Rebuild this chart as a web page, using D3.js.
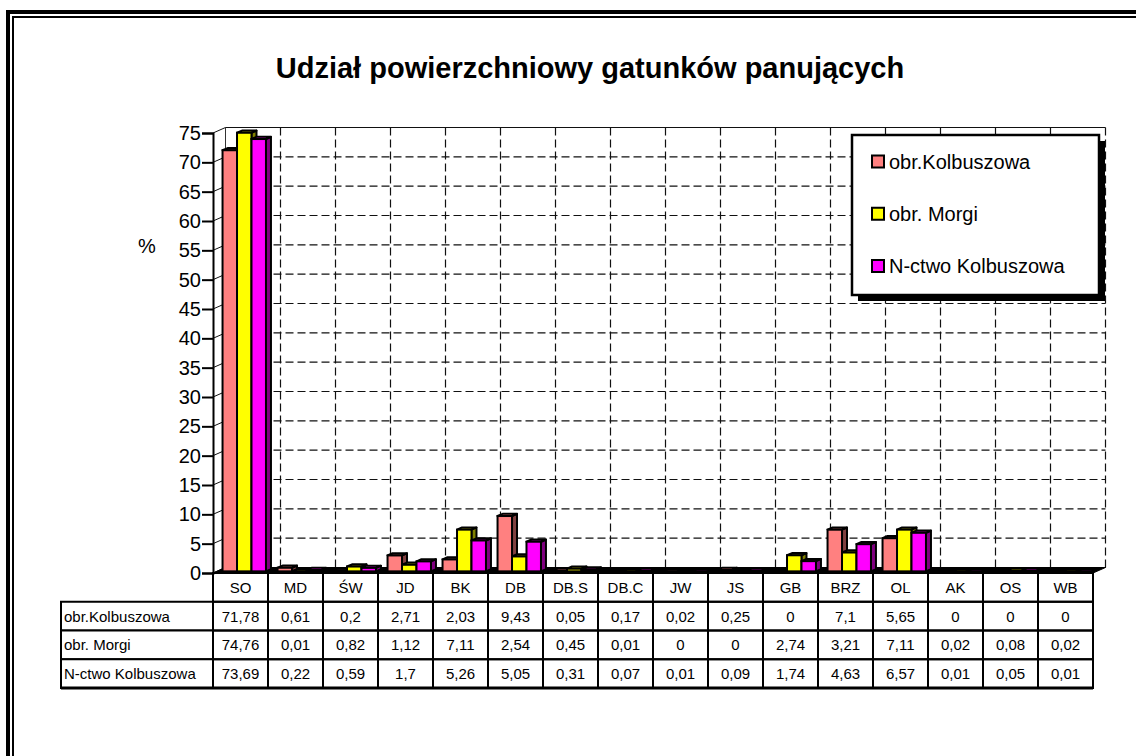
<!DOCTYPE html>
<html><head><meta charset="utf-8">
<script src="https://cdn.jsdelivr.net/npm/d3@7/dist/d3.min.js"></script>
<style>
html,body{margin:0;padding:0;background:#fff;}
svg{display:block;font-family:Arial,"Liberation Sans",sans-serif;}
</style></head>
<body>
<svg id="c" width="1136" height="756"></svg>
<script>
const title = "Udział powierzchniowy gatunków panujących";
const categories = ["SO","MD","ŚW","JD","BK","DB","DB.S","DB.C","JW","JS","GB","BRZ","OL","AK","OS","WB"];
const seriesNames = ["obr.Kolbuszowa","obr. Morgi","N-ctwo Kolbuszowa"];
const kolbuszowa = [71.78,0.61,0.2,2.71,2.03,9.43,0.05,0.17,0.02,0.25,0,7.1,5.65,0,0,0];
const morgi = [74.76,0.01,0.82,1.12,7.11,2.54,0.45,0.01,0,0,2.74,3.21,7.11,0.02,0.08,0.02];
const nctwo = [73.69,0.22,0.59,1.7,5.26,5.05,0.31,0.07,0.01,0.09,1.74,4.63,6.57,0.01,0.05,0.01];
const yTicks = [0,5,10,15,20,25,30,35,40,45,50,55,60,65,70,75];
const seriesValues = [kolbuszowa, morgi, nctwo];
const frontColors = ["#FF8080","#FFFF00","#FF00FF"];
const sideColors = ["#804040","#808000","#800080"];

const svg = d3.select("#c");

// frame
svg.append("rect").attr("x",8).attr("y",12).attr("width",1300).attr("height",900)
  .attr("fill","none").attr("stroke","#000").attr("stroke-width",4);
svg.append("rect").attr("x",13).attr("y",17).attr("width",1300).attr("height",900)
  .attr("fill","none").attr("stroke","#000").attr("stroke-width",2);

// title
svg.append("text").attr("x",590).attr("y",78).attr("text-anchor","middle")
  .attr("font-size",29).attr("font-weight","bold").text(title);

// scales
const x = d3.scaleBand().domain(categories).range([213,1093]);
const y = d3.scaleLinear().domain([0,75]).range([573,133]);
const inner = d3.scaleBand().domain(seriesNames).range([0,x.bandwidth()]).paddingOuter(0.4);
const DX = 12.5, DY = -5.5;      // full depth offset
const F0 = 0.3, F1 = 0.7;        // bar front/back depth fractions

const x0 = x.range()[0], x1 = x.range()[1];

// left side wall lines
const g = svg.append("g");
g.append("line").attr("x1",x0+DX).attr("x2",x0+DX).attr("y1",y(75)+DY).attr("y2",y(0)+DY)
  .attr("stroke","#333").attr("stroke-width",1);
// back wall horizontal gridlines
yTicks.forEach(t=>{
  g.append("line").attr("x1",x0+DX).attr("x2",x1+DX).attr("y1",y(t)+DY).attr("y2",y(t)+DY)
    .attr("stroke","#111").attr("stroke-width",1.2)
    .attr("stroke-dasharray", t===75 ? null : "8,4");
  g.append("line").attr("x1",x0).attr("x2",x0+DX).attr("y1",y(t)).attr("y2",y(t)+DY)
    .attr("stroke","#111").attr("stroke-width",1);
});
// back wall vertical gridlines at category boundaries
categories.forEach((c,i)=>{
  const bx = x(c)+x.bandwidth()+DX;
  g.append("line").attr("x1",bx).attr("x2",bx).attr("y1",y(75)+DY).attr("y2",y(0)+DY)
    .attr("stroke","#111").attr("stroke-width",1.2).attr("stroke-dasharray","8,4");
});

// floor
g.append("path").attr("d",`M${x0},${y(0)}L${x1},${y(0)}L${x1+DX},${y(0)+DY}L${x0+DX},${y(0)+DY}Z`)
  .attr("fill","#000").attr("stroke","#000").attr("stroke-width",1);

// bars
const bars = svg.append("g");
categories.forEach((c,ci)=>{
  seriesNames.forEach((s,si)=>{
    const v = seriesValues[si][ci];
    if (v <= 0) return;
    const bx = x(c)+inner(s)+F0*DX;
    const w = inner.bandwidth();
    const yt = y(v)+F0*DY, yb = y(0)+F0*DY;
    const ddx = (F1-F0)*DX, ddy = (F1-F0)*DY;
    // side
    bars.append("path").attr("d",`M${bx+w},${yb}L${bx+w},${yt}L${bx+w+ddx},${yt+ddy}L${bx+w+ddx},${yb+ddy}Z`)
      .attr("fill",sideColors[si]).attr("stroke","#000").attr("stroke-width",2).attr("stroke-linejoin","round");
    // top
    bars.append("path").attr("d",`M${bx},${yt}L${bx+w},${yt}L${bx+w+ddx},${yt+ddy}L${bx+ddx},${yt+ddy}Z`)
      .attr("fill",frontColors[si]).attr("stroke","#000").attr("stroke-width",2).attr("stroke-linejoin","round");
    // front
    bars.append("rect").attr("x",bx).attr("y",yt).attr("width",w).attr("height",yb-yt)
      .attr("fill",frontColors[si]).attr("stroke","#000").attr("stroke-width",2);
  });
});

// y axis
const axisG = svg.append("g").attr("transform",`translate(${x0},0)`)
  .call(d3.axisLeft(y).tickValues(yTicks).tickSize(11).tickPadding(1));
axisG.select(".domain").attr("stroke","#000").attr("stroke-width",2);
axisG.selectAll(".tick line").attr("stroke","#000").attr("stroke-width",2);
axisG.selectAll(".tick text").attr("font-size",20).attr("font-family","Arial, 'Liberation Sans', sans-serif").attr("fill","#000");

svg.append("text").attr("x",147).attr("y",253).attr("text-anchor","middle").attr("font-size",20).text("%");

// data table
const rowKeys = ["cat"].concat(seriesNames);
const rows = d3.scaleBand().domain(rowKeys).range([573,688]);
const tbl = svg.append("g");
const labelX0 = 61;
rowKeys.forEach((rk,ri)=>{
  const ry = rows(rk), rh = rows.bandwidth();
  if (ri>0) {
    tbl.append("rect").attr("x",labelX0).attr("y",ry).attr("width",x0-labelX0).attr("height",rh)
      .attr("fill","#fff").attr("stroke","#000").attr("stroke-width",2);
    tbl.append("text").attr("x",labelX0+3).attr("y",ry+rh/2+5.5).attr("font-size",15).text(rk);
  }
  categories.forEach((c,ci)=>{
    tbl.append("rect").attr("x",x(c)).attr("y",ry).attr("width",x.bandwidth()).attr("height",rh)
      .attr("fill","none").attr("stroke","#000").attr("stroke-width",2);
    const txt = ri===0 ? c : String(seriesValues[ri-1][ci]).replace(".",",");
    tbl.append("text").attr("x",x(c)+x.bandwidth()/2).attr("y",ry+rh/2+5.5)
      .attr("text-anchor","middle").attr("font-size",15).text(txt);
  });
});
tbl.append("line").attr("x1",labelX0).attr("x2",x1).attr("y1",688).attr("y2",688)
  .attr("stroke","#000").attr("stroke-width",3);
svg.append("line").attr("x1",x0).attr("x2",x1).attr("y1",y(0)).attr("y2",y(0)).attr("stroke","#000").attr("stroke-width",2);

// legend
const lg = svg.append("g");
lg.append("rect").attr("x",858).attr("y",141).attr("width",247).attr("height",160).attr("fill","#000");
lg.append("rect").attr("x",852).attr("y",135).attr("width",247).attr("height",160)
  .attr("fill","#fff").attr("stroke","#000").attr("stroke-width",2.5);
const ly = d3.scalePoint().domain(seriesNames).range([161.5,266]);
seriesNames.forEach((s,si)=>{
  lg.append("rect").attr("x",872).attr("y",ly(s)-6).attr("width",12).attr("height",12)
    .attr("fill",frontColors[si]).attr("stroke","#000").attr("stroke-width",2);
  lg.append("text").attr("x",889).attr("y",ly(s)+7).attr("font-size",20).text(s);
});
</script>
</body></html>
